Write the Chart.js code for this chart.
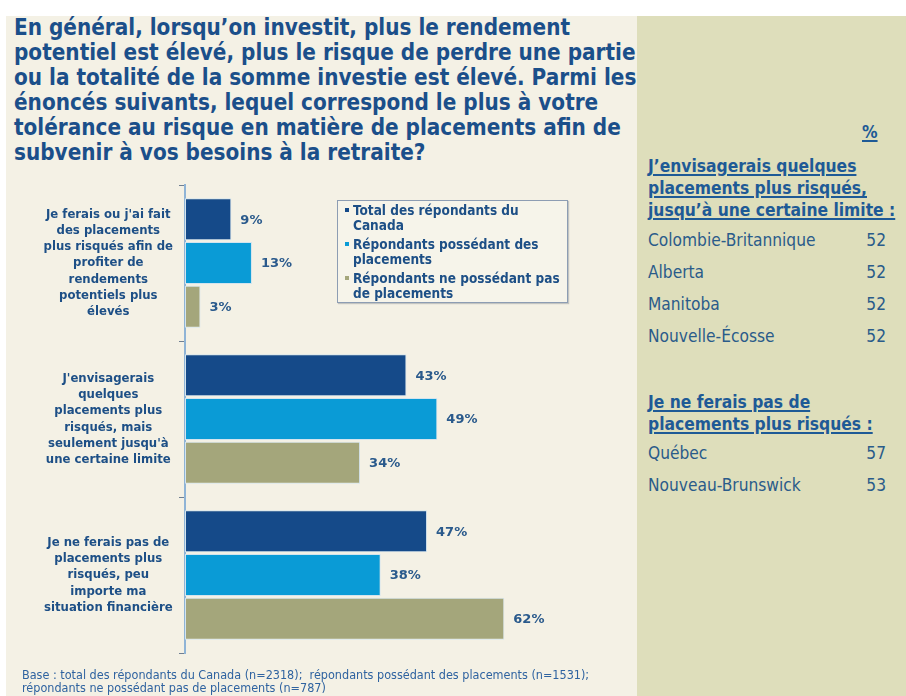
<!DOCTYPE html>
<html><head><meta charset="utf-8">
<script src="https://cdn.jsdelivr.net/npm/chart.js@4/dist/chart.umd.min.js"></script>
<style>
body{margin:0;width:906px;height:696px;background:#fff;position:relative;overflow:hidden;font-family:'DejaVu Sans Condensed','DejaVu Sans',sans-serif;}
#left{position:absolute;left:6px;top:16px;width:631px;height:680px;background:#f4f1e5;}
#right{position:absolute;left:637px;top:16px;width:269px;height:680px;background:#dedebb;}
#title{position:absolute;left:14px;top:15px;width:640px;font-weight:bold;font-size:22.3px;line-height:25px;color:#1b4f8a;white-space:nowrap;}
#wrap{position:absolute;left:6px;top:16px;width:631px;height:680px;}
#legend{position:absolute;left:337px;top:200px;width:231px;height:103px;border:1px solid #8d9db3;box-sizing:border-box;background:#f6f4ea;padding:2px 0 0 7px;box-shadow:1px 1px 1px rgba(120,130,140,0.4);}
.li{position:relative;padding-left:8px;font-weight:bold;font-size:13.5px;line-height:15px;color:#1d4f86;margin-bottom:4px;white-space:nowrap;}
.li span.m{position:absolute;left:0;top:5px;width:4px;height:4px;}
.rp{position:absolute;color:#1e5a96;}
.hd{font-weight:bold;font-size:17.3px;line-height:22px;text-decoration:underline;text-decoration-thickness:2px;text-underline-offset:2px;white-space:nowrap;}
.row{font-size:17.2px;line-height:22px;color:#2a5b8a;white-space:nowrap;}
#foot{position:absolute;left:22px;top:668px;font-size:12.5px;line-height:13px;color:#2f63a0;white-space:nowrap;}
</style></head>
<body>
<div id="left"></div>
<div id="right"></div>
<div id="title"></div>
<div id="wrap"><canvas id="c" width="631" height="680"></canvas></div>
<div id="legend"></div>
<div id="rpanel"></div>
<div id="foot"></div>
<script>
// ---- data ----
const titleLines = [
  "En général, lorsqu’on investit, plus le rendement",
  "potentiel est élevé, plus le risque de perdre une partie",
  "ou la totalité de la somme investie est élevé. Parmi les",
  "énoncés suivants, lequel correspond le plus à votre",
  "tolérance au risque en matière de placements afin de",
  "subvenir à vos besoins à la retraite?"
];
const categories = [
  ["Je ferais ou j'ai fait","des placements","plus risqués afin de","profiter de","rendements","potentiels plus","élevés"],
  ["J'envisagerais","quelques","placements plus","risqués, mais","seulement jusqu'à","une certaine limite"],
  ["Je ne ferais pas de","placements plus","risqués, peu","importe ma","situation financière"]
];
const seriesNames = ["Total des répondants du Canada","Répondants possédant des placements","Répondants ne possédant pas de placements"];
const legendLines = [["Total des répondants du","Canada"],["Répondants possédant des","placements"],["Répondants ne possédant pas","de placements"]];
const totalCanada = [9, 43, 47];
const avecPlacements = [13, 49, 38];
const sansPlacements = [3, 34, 62];
const seriesColors = ["#154a89", "#0a9bd6", "#a4a67b"];

const pctHeader = "%";
const group1Title = ["J’envisagerais quelques","placements plus risqués,","jusqu’à une certaine limite :"];
const group1Provinces = ["Colombie-Britannique","Alberta","Manitoba","Nouvelle-Écosse"];
const group1Values = [52, 52, 52, 52];
const group2Title = ["Je ne ferais pas de","placements plus risqués :"];
const group2Provinces = ["Québec","Nouveau-Brunswick"];
const group2Values = [57, 53];
const footLines = ["Base : total des répondants du Canada (n=2318);  répondants possédant des placements (n=1531);","répondants ne possédant pas de placements (n=787)"];

// ---- text parts ----
document.getElementById('title').innerHTML = titleLines.join('<br>');
document.getElementById('foot').innerHTML = footLines.map(s=>s.replace(/  /g,' &nbsp;')).join('<br>');
const lg = document.getElementById('legend');
legendLines.forEach((ls,i)=>{
  const d=document.createElement('div');d.className='li';
  d.innerHTML='<span class="m" style="background:'+seriesColors[i]+'"></span>'+ls.join('<br>');
  lg.appendChild(d);
});
const rp = document.getElementById('rpanel');
function add(html, cls, style){const d=document.createElement('div');d.className='rp '+cls;d.innerHTML=html;Object.assign(d.style,style);rp.appendChild(d);return d;}
add(pctHeader,'hd',{left:'862px',top:'121px'});
add(group1Title.join('<br>'),'hd',{left:'648px',top:'155px'});
group1Provinces.forEach((p,i)=>{
  add(p,'row',{left:'648px',top:(229+i*32)+'px'});
  add(String(group1Values[i]),'row',{left:'820px',width:'66px',textAlign:'right',top:(229+i*32)+'px'});
});
add(group2Title.join('<br>'),'hd',{left:'648px',top:'391px'});
group2Provinces.forEach((p,i)=>{
  add(p,'row',{left:'648px',top:(442+i*32)+'px'});
  add(String(group2Values[i]),'row',{left:'820px',width:'66px',textAlign:'right',top:(442+i*32)+'px'});
});

// ---- chart ----
const valueLabels = {
  id:'valueLabels',
  afterDatasetsDraw(chart){
    const ctx=chart.ctx;
    ctx.save();
    ctx.font="bold 13px 'DejaVu Sans'";
    ctx.fillStyle="#2a5a8c";
    ctx.textAlign='left';ctx.textBaseline='middle';
    chart.data.datasets.forEach((ds,di)=>{
      chart.getDatasetMeta(di).data.forEach((el,i)=>{
        ctx.fillText(ds.data[i]+'%', el.x+9, el.y+1);
      });
    });
    ctx.restore();
  }
};
const dsArr=[totalCanada,avecPlacements,sansPlacements];
new Chart(document.getElementById('c'),{
  type:'bar',
  data:{
    labels:categories,
    datasets:dsArr.map((d,i)=>({label:seriesNames[i],data:d,backgroundColor:seriesColors[i],borderColor:'#d3e4ee',borderWidth:1,borderSkipped:false,categoryPercentage:0.84,barPercentage:0.96}))
  },
  options:{
    indexAxis:'y',
    responsive:false,
    animation:false,
    layout:{padding:{left:0,right:40,top:169,bottom:43}},
    plugins:{legend:{display:false},tooltip:{enabled:false}},
    scales:{
      x:{display:false,min:0,max:80},
      y:{
        position:'left',
        grid:{display:true,drawOnChartArea:false,drawTicks:true,tickLength:6,color:'#6f7f92',offset:true},
        border:{display:true,color:'#8fb4d6',width:2},
        ticks:{crossAlign:'center',padding:6,color:'#1d4f86',font:{family:"'DejaVu Sans Condensed'",weight:'bold',size:13,lineHeight:1.25}},
        afterFit(s){s.width=179;s.paddingTop=0;s.paddingBottom=0;}
      }
    }
  },
  plugins:[valueLabels]
});
</script>
</body></html>
